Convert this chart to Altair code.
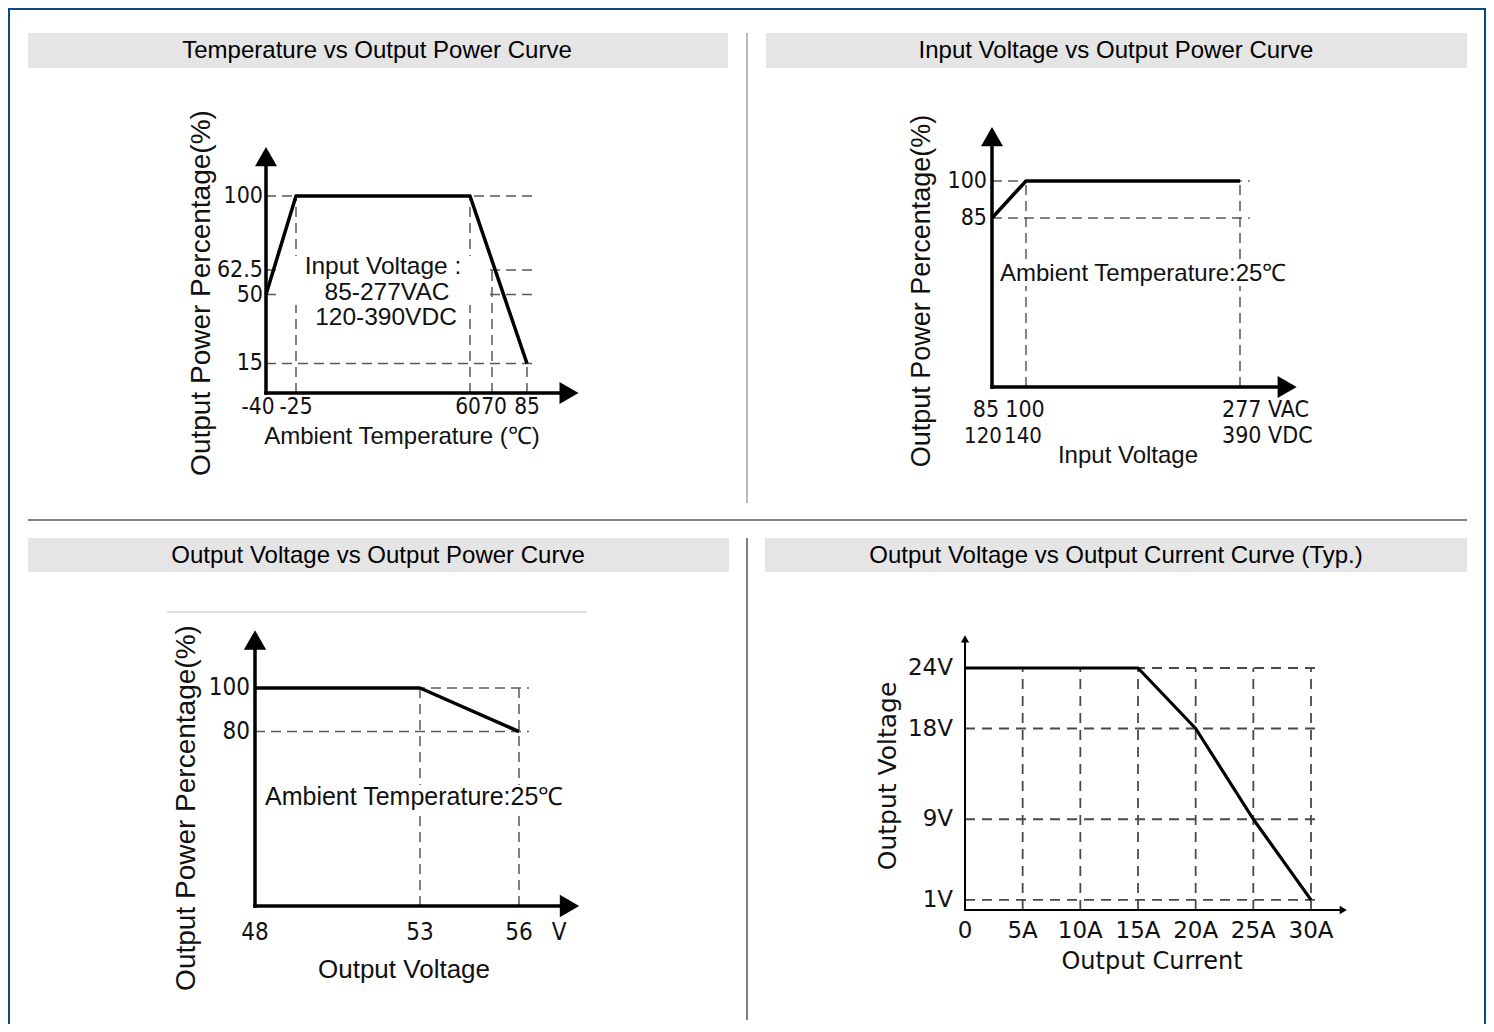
import altair as alt
import pandas as pd

OFF = 8  # page margin: reference pixel -> chart pixel


def P(v):
    return v - OFF


# ---------------- data ----------------
# Panel 1: Temperature vs Output Power
temp_x = [-40, -25, 60, 85]
temp_y = [50, 100, 100, 15]
temp_xticks = [-40, -25, 60, 70, 85]
temp_xlabels = ["-40", "-25", "60", "70", "85"]
temp_yticks = [100, 62.5, 50, 15]
temp_ylabels = ["100", "62.5", "50", "15"]
temp_vguide_x = [-25, 60, 70, 85]
temp_vguide_top = [100, 100, 62.5, 15]
temp_note = ["Input Voltage :", "85-277VAC", "120-390VDC"]

# Panel 2: Input Voltage vs Output Power
vin_x = [85, 100, 277]
vin_y = [85, 100, 100]
vin_xticks = [85, 100]
vin_xlabels_ac = ["85", "100"]
vin_xlabels_dc = ["120", "140"]
vin_xend_tick = [277]
vin_xend_ac = ["277 VAC"]
vin_xend_dc = ["390 VDC"]
vin_yticks = [100, 85]
vin_ylabels = ["100", "85"]
vin_vguide_x = [100, 277]
vin_vguide_top = [100, 100]

# Panel 3: Output Voltage vs Output Power
vout_x = [48, 53, 56]
vout_y = [100, 100, 80]
vout_xticks = [48, 53, 56]
vout_xlabels = ["48", "53", "56"]
vout_yticks = [100, 80]
vout_ylabels = ["100", "80"]
vout_vguide_x = [53, 56]
vout_vguide_top = [100, 100]

# Panel 4: Output Voltage vs Output Current
cur_x = [0, 15, 20, 25, 30]
cur_v = [24, 24, 18, 9, 1]
cur_xticks = [0, 5, 10, 15, 20, 25, 30]
cur_xlabels = ["0", "5A", "10A", "15A", "20A", "25A", "30A"]
cur_yticks = [24, 18, 9, 1]
cur_ylabels = ["24V", "18V", "9V", "1V"]

TITLES = [
    "Temperature vs Output Power Curve",
    "Input Voltage vs Output Power Curve",
    "Output Voltage vs Output Power Curve",
    "Output Voltage vs Output Current Curve (Typ.)",
]

# ---------------- styles ----------------
INK = "#111111"
GUIDE = "#5a5a5a"
FONT = "Liberation Sans, Arial, sans-serif"
NARROW = "Liberation Sans Narrow, Arial Narrow, DejaVu Sans Condensed, Liberation Sans, sans-serif"
FONT4 = "DejaVu Sans, sans-serif"
DASH = [10, 6]
ONE = pd.DataFrame({"k": [0]})


def S(domain, rng):
    return alt.Scale(domain=domain, range=[P(r) for r in rng], nice=False, zero=False)


s1x = S(temp_xticks, [266, 296, 470, 492, 527])
s1y = S([0, 100], [393, 196])
s2x = S([85, 100, 277], [992, 1026, 1240])
s2y = S([0, 85, 100], [387, 218, 181])
s3x = S([48, 56], [255, 519])
s3y = S([0, 100], [906, 688])
s4x = S([0, 30], [965, 1311])
s4y = S([0, 24], [910, 668])


def enc(sx, sy, xf="x", yf="y"):
    return dict(
        x=alt.X(f"{xf}:Q", scale=sx, axis=None),
        y=alt.Y(f"{yf}:Q", scale=sy, axis=None),
    )


def curve(xv, yv, sx, sy, w):
    df = pd.DataFrame({"x": xv, "y": yv, "o": list(range(len(xv)))})
    return alt.Chart(df).mark_line(color="black", strokeWidth=w, strokeJoin="round").encode(
        order="o:O", **enc(sx, sy))


def hguides(yv, x0, x1, sx, sy, color=GUIDE, w=1.5, dash=DASH):
    df = pd.DataFrame({"y": yv, "x": [x0] * len(yv), "x2": [x1] * len(yv)})
    return alt.Chart(df).mark_rule(color=color, strokeWidth=w, strokeDash=dash).encode(
        x2="x2:Q", **enc(sx, sy))


def vguides(xv, y0, tops, sx, sy, color=GUIDE, w=1.5, dash=DASH):
    df = pd.DataFrame({"x": xv, "y": [y0] * len(xv), "y2": tops})
    return alt.Chart(df).mark_rule(color=color, strokeWidth=w, strokeDash=dash).encode(
        y2="y2:Q", **enc(sx, sy))


def axes(x0, y0, xend, yend, sx, sy, w, size):
    dx = pd.DataFrame({"x": [x0], "x2": [xend], "y": [y0]})
    dy = pd.DataFrame({"x": [x0], "y": [y0], "y2": [yend]})
    ax = alt.Chart(dx).mark_rule(color="black", strokeWidth=w, strokeCap="square").encode(
        x2="x2:Q", **enc(sx, sy))
    ay = alt.Chart(dy).mark_rule(color="black", strokeWidth=w, strokeCap="square").encode(
        y2="y2:Q", **enc(sx, sy))
    tx = alt.Chart(pd.DataFrame({"x": [xend], "y": [y0]})).mark_point(
        shape="triangle-right", filled=True, size=size, color="black", opacity=1, strokeWidth=0
    ).encode(**enc(sx, sy))
    ty = alt.Chart(pd.DataFrame({"x": [x0], "y": [yend]})).mark_point(
        shape="triangle-up", filled=True, size=size, color="black", opacity=1, strokeWidth=0
    ).encode(**enc(sx, sy))
    return [ax, ay, tx, ty]


def labels(xv, yv, texts, sx, sy, font, size, align="center", dx=0, dy=0):
    n = len(texts)
    xv = xv if isinstance(xv, list) else [xv] * n
    yv = yv if isinstance(yv, list) else [yv] * n
    df = pd.DataFrame({"x": xv, "y": yv, "t": texts})
    return alt.Chart(df).mark_text(
        font=font, fontSize=size, align=align, baseline="middle", dx=dx, dy=dy, color=INK
    ).encode(text="t:N", **enc(sx, sy))


def labels_each(xv, yv, texts, dxs, sx, sy, font, size, dy=0):
    # one layer per tick label so that crowded labels can be nudged apart
    return [labels([x], yv, [t], sx, sy, font, size, dx=d, dy=dy) for x, t, d in zip(xv, texts, dxs)]


def ptext(txt, x, y, font, size, angle=0, align="center", color=INK):
    return alt.Chart(ONE).mark_text(
        text=txt, font=font, fontSize=size, angle=angle, align=align, baseline="middle", color=color
    ).encode(x=alt.value(P(x)), y=alt.value(P(y)))


def prect(x1, y1, x2, y2, color):
    return alt.Chart(ONE).mark_rect(color=color).encode(
        x=alt.value(P(x1)), x2=alt.value(P(x2)), y=alt.value(P(y1)), y2=alt.value(P(y2)))


def pline(x1, y1, x2, y2, color, w):
    return alt.Chart(ONE).mark_rule(color=color, strokeWidth=w).encode(
        x=alt.value(P(x1)), x2=alt.value(P(x2)), y=alt.value(P(y1)), y2=alt.value(P(y2)))


layers = []

# ---------------- frame ----------------
BLUE = "#0b4a7e"
layers.append(alt.Chart(ONE).mark_rule(color=BLUE, strokeWidth=2).encode(
    x=alt.value(0), x2=alt.value(1478), y=alt.value(1), y2=alt.value(1)))
layers.append(alt.Chart(ONE).mark_rule(color=BLUE, strokeWidth=2).encode(
    x=alt.value(1), x2=alt.value(1), y=alt.value(0), y2=alt.value(1016)))
layers.append(alt.Chart(ONE).mark_rule(color=BLUE, strokeWidth=2).encode(
    x=alt.value(1477), x2=alt.value(1477), y=alt.value(0), y2=alt.value(1016)))

bars = [(28, 33, 728, 68), (766, 33, 1467, 68), (28, 538, 729, 572), (765, 538, 1467, 572)]
title_pos = [(377, 51), (1116, 51), (378, 556), (1116, 556)]
for b in bars:
    layers.append(prect(*b, "#e5e5e5"))
for t, (tx_, ty_) in zip(TITLES, title_pos):
    layers.append(ptext(t, tx_, ty_, FONT, 24, color="black"))

layers.append(pline(747, 33, 747, 503, "#8c8c8c", 1.2))
layers.append(pline(28, 520, 1467, 520, "#808080", 2))
layers.append(pline(747, 538, 747, 1020, "#808080", 2))

# ---------------- panel 1 ----------------
layers.append(hguides(temp_yticks, -40, 88, s1x, s1y))
layers.append(vguides(temp_vguide_x, 0, temp_vguide_top, s1x, s1y))
# white backing behind the annotation lines
layers.append(prect(279, 256, 488, 282, "white"))
layers.append(prect(279, 282, 488, 305, "white"))
layers.append(prect(301, 305, 466, 330, "white"))
layers.append(ptext(temp_note[0], 383, 266.5, FONT, 24.5))
layers.append(ptext(temp_note[1], 387, 293, FONT, 24.5))
layers.append(ptext(temp_note[2], 386, 318, FONT, 24.5))
layers.append(curve(temp_x, temp_y, s1x, s1y, 3.5))
layers += axes(-40, 0, 103, 120, s1x, s1y, 3.5, 484)
layers += labels_each(temp_xticks, 0, temp_xlabels, [-8, 0, -2, 2, 0], s1x, s1y, NARROW, 22.5, dy=14)
layers.append(labels(-40, temp_yticks, temp_ylabels, s1x, s1y, NARROW, 23, align="right", dx=-3))
layers.append(ptext("Ambient Temperature (℃)", 402, 437, FONT, 24))
layers.append(ptext("Output Power Percentage(%)", 202, 293, FONT, 28, angle=270))

# ---------------- panel 2 ----------------
layers.append(hguides(vin_yticks, 85, 285, s2x, s2y))
layers.append(vguides(vin_vguide_x, 0, vin_vguide_top, s2x, s2y))
layers.append(prect(998, 263, 1293, 286, "white"))
layers.append(ptext("Ambient Temperature:25℃", 1000, 274, FONT, 24, align="left"))
layers.append(curve(vin_x, vin_y, s2x, s2y, 3.5))
layers += axes(85, 0, 316, 118, s2x, s2y, 3.5, 484)
layers += labels_each(vin_xticks, 0, vin_xlabels_ac, [-6, -1], s2x, s2y, NARROW, 23, dy=23)
layers += labels_each(vin_xticks, 0, vin_xlabels_dc, [-9, -3], s2x, s2y, NARROW, 22, dy=49)
layers.append(labels(vin_xend_tick, 0, vin_xend_ac, s2x, s2y, NARROW, 23, align="left", dx=-18, dy=23))
layers.append(labels(vin_xend_tick, 0, vin_xend_dc, s2x, s2y, NARROW, 23, align="left", dx=-18, dy=49))
layers.append(labels(85, vin_yticks, vin_ylabels, s2x, s2y, NARROW, 23, align="right", dx=-5))
layers.append(ptext("Input Voltage", 1128, 456, FONT, 24))
layers.append(ptext("Output Power Percentage(%)", 922, 291, FONT, 27, angle=270))

# ---------------- panel 3 ----------------
layers.append(pline(167, 612, 587, 612, "#c4c4c4", 1))
layers.append(hguides(vout_yticks, 48, 56.3, s3x, s3y))
layers.append(vguides(vout_vguide_x, 0, vout_vguide_top, s3x, s3y))
layers.append(prect(262, 785, 575, 810, "white"))
layers.append(ptext("Ambient Temperature:25℃", 265, 797, FONT, 25, align="left"))
layers.append(curve(vout_x, vout_y, s3x, s3y, 3.5))
layers += axes(48, 0, 57.53, 122, s3x, s3y, 3.5, 500)
layers.append(labels(vout_xticks, 0, vout_xlabels, s3x, s3y, NARROW, 24, dy=27))
layers.append(labels([56], 0, ["V"], s3x, s3y, NARROW, 24, dx=40, dy=27))
layers.append(labels(48, vout_yticks, vout_ylabels, s3x, s3y, NARROW, 24, align="right", dx=-5))
layers.append(ptext("Output Voltage", 404, 970, FONT, 26))
layers.append(ptext("Output Power Percentage(%)", 187, 808, FONT, 28, angle=270))

# ---------------- panel 4 ----------------
layers.append(hguides(cur_yticks, 0, 30.8, s4x, s4y, color="#4a4a4a", w=1.8, dash=[10, 7]))
layers.append(vguides(cur_xticks[1:], 0, [24] * (len(cur_xticks) - 1), s4x, s4y,
                      color="#4a4a4a", w=1.8, dash=[10, 7]))
layers.append(curve(cur_x, cur_v, s4x, s4y, 3.2))
layers += axes(0, 0, 32.8, 26.9, s4x, s4y, 2, 70)
layers.append(labels(cur_xticks, 0, cur_xlabels, s4x, s4y, FONT4, 23, dy=21))
layers.append(labels(0, cur_yticks, cur_ylabels, s4x, s4y, FONT4, 23, align="right", dx=-12))
layers.append(ptext("Output Current", 1152, 962, FONT4, 24))
layers.append(ptext("Output Voltage", 888, 776, FONT4, 25, angle=270))

chart = alt.layer(*layers).resolve_scale(x="independent", y="independent").properties(
    width=1478,
    height=1016,
    padding=0,
    autosize=alt.AutoSizeParams(type="none"),
    background="white",
).configure_view(strokeWidth=0)

chart.save("out.html", embed_options={"renderer": "svg", "actions": False})
